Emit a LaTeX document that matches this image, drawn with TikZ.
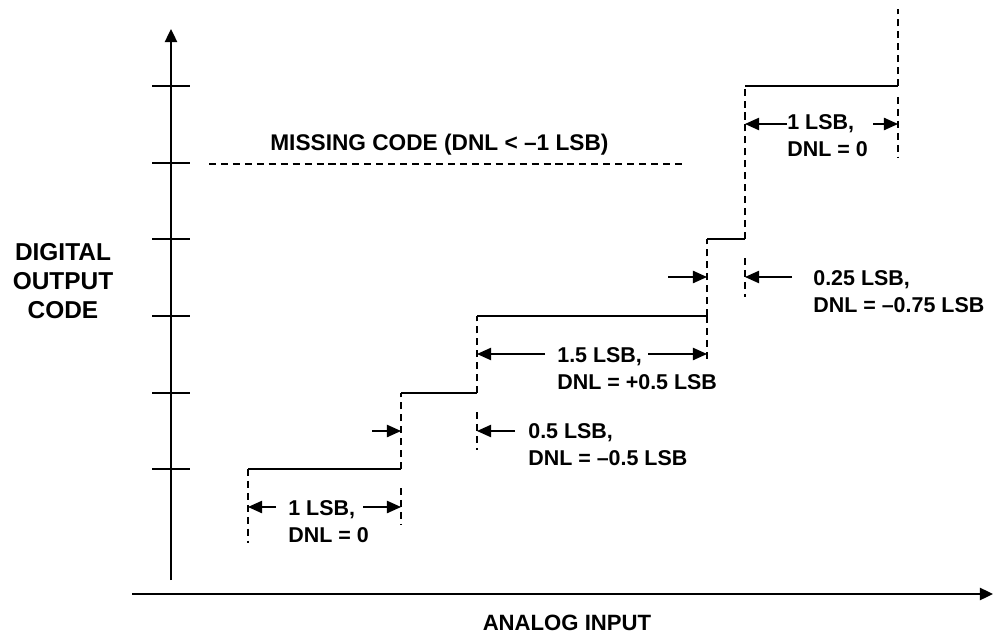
\documentclass[tikz,border=0pt]{standalone}
\usepackage{fontspec}
\setmainfont{Liberation Sans}
\usetikzlibrary{arrows.meta}

\begin{document}
\begin{tikzpicture}[x=0.02cm,y=-0.02cm]
	\useasboundingbox (0,0) rectangle (994,635);
	% corners of the staircase
	\coordinate (c0)  at (248,469);
	\coordinate (c1)  at (401,469);
	\coordinate (c1u) at (401,393);
	\coordinate (c2)  at (477,393);
	\coordinate (c2u) at (477,316);
	\coordinate (c3)  at (707,316);
	\coordinate (c3u) at (707,239);
	\coordinate (c4)  at (745,239);
	\coordinate (c4u) at (745,86);
	\coordinate (c5)  at (898,86);
	\coordinate (c5u) at (898,9);
	% axes
	\begin{scope}[line width=1.1pt, >={Triangle[length=7.5pt,width=7pt]}]
		\coordinate (ybot)   at (171,580);
		\coordinate (ytop)   at (171,29);
		\coordinate (xleft)  at (132,594);
		\coordinate (xright) at (993,594);
		\draw[->] (ybot) -- (ytop);
		\draw[->] (xleft) -- (xright);
		\foreach \y in {86,163,239,316,393,469}
			\draw (152,\y) -- (190,\y);
	\end{scope}
	% treads
	\begin{scope}[line width=1.1pt]
		\draw (c0)  -- (c1);
		\draw (c1u) -- (c2);
		\draw (c2u) -- (c3);
		\draw (c3u) -- (c4);
		\draw (c4u) -- (c5);
	\end{scope}
	% risers and extension lines
	\begin{scope}[line width=1.5pt, dash pattern=on 4pt off 2.8pt]
		\draw (c1) -- (c1u);
		\draw (c2) -- (c2u);
		\draw (c3) -- (c3u);
		\draw (c4) -- (c4u);
		\draw (c5) -- (c5u);
		\draw (c0) -- (248,543);
		\draw (401,488) -- (401,525);
		\draw (477,412) -- (477,450);
		\draw (c3) -- (707,363);
		\draw (745,258) -- (745,297);
		\draw (898,97) -- (898,157);
		\draw (209,164) -- (686,164);
	\end{scope}
	% widths of the steps
	\begin{scope}[line width=0.8pt, >={Triangle[length=8pt,width=7pt]}]
		\draw[->] (276,507) -- (248,507);
		\draw[->] (363,507) -- (401,507);
		\draw[->] (372,431) -- (401,431);
		\draw[->] (515,431) -- (477,431);
		\draw[->] (545,354) -- (477,354);
		\draw[->] (648,354) -- (707,354);
		\draw[->] (668,277) -- (707,277);
		\draw[->] (792,277) -- (745,277);
		\draw[->] (787,124) -- (745,124);
		\draw[->] (873,124) -- (898,124);
	\end{scope}
	\begin{scope}[every node/.style={font=\bfseries\fontsize{12.2}{15.3}\selectfont,
	                                 align=left, anchor=west, inner sep=0pt}]
		\node (step1) at (288,522)   {1 LSB,\\DNL = 0};
		\node (step2) at (528,445)   {0.5 LSB,\\DNL = –0.5 LSB};
		\node (step3) at (557,368.5) {1.5 LSB,\\DNL = +0.5 LSB};
		\node (step4) at (813,291.5) {0.25 LSB,\\DNL = –0.75 LSB};
		\node (step5) at (787,135.5) {1 LSB,\\DNL = 0};
	\end{scope}
	\node[font=\bfseries\fontsize{12.9}{15.5}\selectfont, anchor=west, inner sep=0pt] (missing) at (270,145)
		{MISSING CODE (DNL < –1 LSB)};
	\node[font=\bfseries\fontsize{13.9}{16.4}\selectfont, align=center, inner sep=0pt] (ylabel) at (63,281)
		{DIGITAL\\OUTPUT\\CODE};
	\node[font=\bfseries\fontsize{12.6}{15}\selectfont, inner sep=0pt] (xlabel) at (567,623)
		{ANALOG INPUT};
\end{tikzpicture}
\end{document}
